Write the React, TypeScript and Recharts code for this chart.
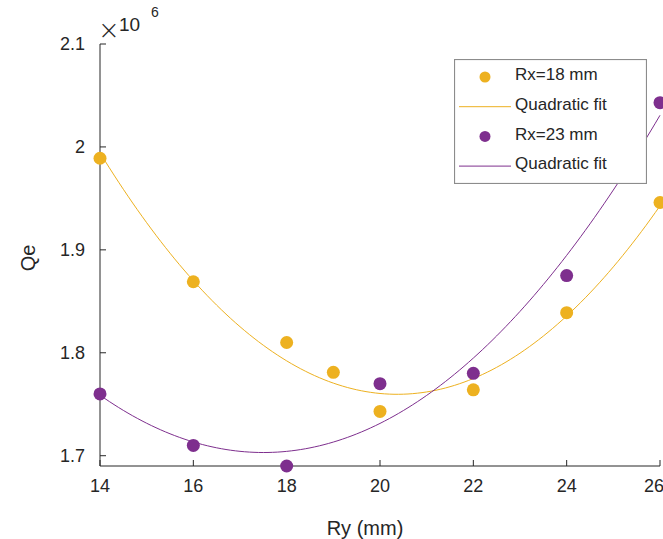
import { ComposedChart, Scatter, Line, XAxis, YAxis, Legend, Label } from 'recharts';

// Ry (mm) positions and Qe values (x10^6)
const rx18Ry = [14, 16, 18, 19, 20, 22, 24, 26];
const rx18Qe = [1.989, 1.869, 1.81, 1.781, 1.743, 1.764, 1.839, 1.946];
const rx23Ry = [14, 16, 18, 20, 22, 24, 26];
const rx23Qe = [1.76, 1.71, 1.69, 1.77, 1.78, 1.875, 2.043];

const xTicks = [14, 16, 18, 20, 22, 24, 26];
const yTicks = [1.7, 1.8, 1.9, 2, 2.1];
const xRange = [14, 26];
const yTop = 2.1;

const ORANGE = '#EDB120';
const PURPLE = '#7E2F8E';
const INK = '#262626';
const FONT = '"Liberation Sans", Arial, Helvetica, sans-serif';

const toPoints = (xs: number[], ys: number[]) => xs.map((x, i) => ({ x, y: ys[i] }));

// least squares fit y = a + b x + c x^2, like polyfit(x, y, 2)
const quadFit = (xs: number[], ys: number[]) => {
    const s = [0, 0, 0, 0, 0];
    const t = [0, 0, 0];
    xs.forEach((x, i) => {
        for (let k = 0; k < 5; k++) s[k] += Math.pow(x, k);
        for (let k = 0; k < 3; k++) t[k] += ys[i] * Math.pow(x, k);
    });
    const m = [
        [s[0], s[1], s[2]],
        [s[1], s[2], s[3]],
        [s[2], s[3], s[4]],
    ];
    const det = (a: number[][]) =>
        a[0][0] * (a[1][1] * a[2][2] - a[1][2] * a[2][1]) -
        a[0][1] * (a[1][0] * a[2][2] - a[1][2] * a[2][0]) +
        a[0][2] * (a[1][0] * a[2][1] - a[1][1] * a[2][0]);
    const d = det(m);
    const coef = [0, 1, 2].map((c) => det(m.map((row, r) => row.map((v, j) => (j === c ? t[r] : v)))) / d);
    return (x: number) => coef[0] + coef[1] * x + coef[2] * x * x;
};

const fitCurve = (xs: number[], ys: number[]) => {
    const f = quadFit(xs, ys);
    const out = [];
    for (let i = 0; i <= 120; i++) {
        const x = xRange[0] + ((xRange[1] - xRange[0]) * i) / 120;
        out.push({ x, y: f(x) });
    }
    return out;
};

const rx18Points = toPoints(rx18Ry, rx18Qe);
const rx23Points = toPoints(rx23Ry, rx23Qe);
const rx18Fit = fitCurve(rx18Ry, rx18Qe);
const rx23Fit = fitCurve(rx23Ry, rx23Qe);
const yMin = Math.min(...rx18Qe, ...rx23Qe);

const dot = (color: string) => (props: any) => <circle cx={props.cx} cy={props.cy} r={6.5} fill={color} />;

const legendRows = [
    { kind: 'dot', color: ORANGE, text: 'Rx=18 mm' },
    { kind: 'line', color: ORANGE, text: 'Quadratic fit' },
    { kind: 'dot', color: PURPLE, text: 'Rx=23 mm' },
    { kind: 'line', color: PURPLE, text: 'Quadratic fit' },
];

const LegendBox = () => (
    <svg width={193} height={125} style={{ display: 'block' }}>
        <rect x={0.5} y={0.5} width={192} height={124} fill="#fff" stroke="#8c8c8c" strokeWidth={1.2} />
        {legendRows.map((r, i) => {
            const cy = 15 + i * 29.7;
            return (
                <g key={i}>
                    {r.kind === 'dot' ? (
                        <circle cx={31} cy={cy + 3} r={5.5} fill={r.color} />
                    ) : (
                        <line x1={5} x2={57} y1={cy + 3} y2={cy + 3} stroke={r.color} strokeWidth={1} />
                    )}
                    <text x={61} y={cy} dy="0.36em" fontSize={17} fill={INK} fontFamily={FONT}>
                        {r.text}
                    </text>
                </g>
            );
        })}
    </svg>
);

const axisTick = { fill: INK, fontSize: 18, fontFamily: FONT };

export default function App() {
    return (
        <div style={{ position: 'absolute', left: 0, top: 0, background: '#fff' }}>
            <ComposedChart width={663} height={539} margin={{ top: 44, right: 3, bottom: 0, left: 0 }}>
                <XAxis
                    xAxisId="b"
                    dataKey="x"
                    type="number"
                    domain={xRange}
                    ticks={xTicks}
                    height={73}
                    stroke={INK}
                    tickSize={-6}
                    tickMargin={19}
                    tick={axisTick}
                >
                    <Label
                        content={() => (
                            <text x={365} y={528} dy="0.36em" textAnchor="middle" fontSize={20} fill={INK} fontFamily={FONT}>
                                Ry (mm)
                            </text>
                        )}
                    />
                </XAxis>
                <XAxis
                    xAxisId="t"
                    orientation="top"
                    type="number"
                    domain={xRange}
                    ticks={xTicks}
                    height={0}
                    stroke={INK}
                    tickSize={-6}
                    tick={false}
                />
                <YAxis
                    yAxisId="l"
                    dataKey="y"
                    type="number"
                    domain={[yMin, yTop]}
                    ticks={yTicks}
                    width={100}
                    stroke={INK}
                    tickSize={-6}
                    tickMargin={21}
                    tick={axisTick}
                >
                    <Label
                        content={() => (
                            <g fontFamily={FONT} fill={INK}>
                                <text x={28} y={258} dy="0.36em" textAnchor="middle" fontSize={20} transform="rotate(-90 28 258)">
                                    Qe
                                </text>
                                <text x={98} y={30} dy="0.36em" fontSize={26} fontFamily='"DejaVu Sans", sans-serif' fontWeight={200}>
                                    ×
                                </text>
                                <text x={119} y={24} dy="0.36em" fontSize={19}>
                                    10
                                </text>
                                <text x={151} y={12} dy="0.36em" fontSize={14}>
                                    6
                                </text>
                            </g>
                        )}
                    />
                </YAxis>
                <YAxis
                    yAxisId="r"
                    orientation="right"
                    type="number"
                    domain={[yMin, yTop]}
                    ticks={yTicks}
                    width={0}
                    stroke={INK}
                    tickSize={-6}
                    tick={false}
                />
                <Legend layout="horizontal" verticalAlign="middle" align="center" content={() => <LegendBox />} wrapperStyle={{ left: 454, top: 59, width: 193, height: 125 }} />
                <Line xAxisId="b" yAxisId="l" data={rx18Fit} dataKey="y" stroke={ORANGE} strokeWidth={1} dot={false} isAnimationActive={false} />
                <Line xAxisId="b" yAxisId="l" data={rx23Fit} dataKey="y" stroke={PURPLE} strokeWidth={1} dot={false} isAnimationActive={false} />
                <Scatter xAxisId="b" yAxisId="l" data={rx18Points} dataKey="y" shape={dot(ORANGE)} isAnimationActive={false} />
                <Scatter xAxisId="b" yAxisId="l" data={rx23Points} dataKey="y" shape={dot(PURPLE)} isAnimationActive={false} />
            </ComposedChart>
        </div>
    );
}
